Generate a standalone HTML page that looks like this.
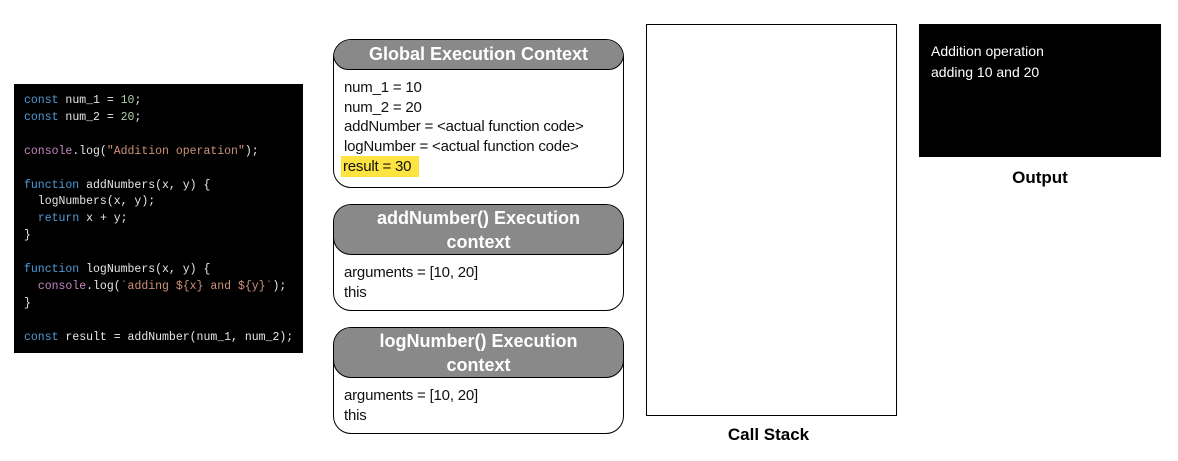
<!DOCTYPE html>
<html><head><style>
body{margin:0;width:1178px;height:461px;background:#fff;position:relative;overflow:hidden;font-family:"Liberation Sans",sans-serif}
.abs{position:absolute}
.code{left:14px;top:84px;width:289px;height:269px;background:#000;}
.code pre{margin:0;position:absolute;left:10px;top:9px;font-family:"Liberation Mono",monospace;font-size:11.5px;line-height:16.9px;color:#e6e6e6}
.k{color:#4f9ad6}.n{color:#b5cea8}.s{color:#ce9178}.p{color:#c586c0}
.box{border:1.5px solid #000;border-radius:18px;background:#fff;box-sizing:border-box;overflow:hidden}
.hd{position:absolute;left:-1px;right:-1px;top:-1px;background:#898989;border:1.5px solid #000;border-radius:18px;color:#fff;font-weight:bold;font-size:18px;text-align:center;box-sizing:border-box}
.bd{position:absolute;left:10px;font-size:15px;line-height:19.7px;color:#111;letter-spacing:-0.2px}
</style></head><body>
<div class="abs code"><pre><span class="k">const</span> num_1 = <span class="n">10</span>;
<span class="k">const</span> num_2 = <span class="n">20</span>;

<span class="p">console</span>.log(<span class="s">"Addition operation"</span>);

<span class="k">function</span> addNumbers(x, y) {
  logNumbers(x, y);
  <span class="k">return</span> x + y;
}

<span class="k">function</span> logNumbers(x, y) {
  <span class="p">console</span>.log(<span class="s">`adding ${x} and ${y}`</span>);
}

<span class="k">const</span> result = addNumber(num_1, num_2);</pre></div>

<div class="abs box" style="left:333px;top:39px;width:291px;height:149px">
 <div class="hd" style="height:31px;line-height:28px">Global Execution Context</div>
 <div class="bd" style="top:38px">num_1 = 10<br>num_2 = 20<br>addNumber = &lt;actual function code&gt;<br>logNumber = &lt;actual function code&gt;<br><span style="background:#fde440;padding:2px 8px 2px 2px;margin-left:-3px">result = 30</span></div>
</div>
<div class="abs box" style="left:333px;top:204px;width:291px;height:107px">
 <div class="hd" style="height:51px;line-height:24px;padding-top:1px">addNumber() Execution<br>context</div>
 <div class="bd" style="top:58px">arguments = [10, 20]<br>this</div>
</div>
<div class="abs box" style="left:333px;top:327px;width:291px;height:107px">
 <div class="hd" style="height:51px;line-height:24px;padding-top:1px">logNumber() Execution<br>context</div>
 <div class="bd" style="top:58px">arguments = [10, 20]<br>this</div>
</div>

<div class="abs" style="left:646px;top:24px;width:249px;height:390px;border:1px solid #000"></div>
<div class="abs" style="left:643px;top:425px;width:251px;text-align:center;font-weight:bold;font-size:17px">Call Stack</div>

<div class="abs" style="left:919px;top:24px;width:242px;height:133px;background:#000"></div>
<div class="abs" style="left:931px;top:41px;color:#fff;font-size:14px;line-height:21px">Addition operation<br>adding 10 and 20</div>
<div class="abs" style="left:919px;top:168px;width:242px;text-align:center;font-weight:bold;font-size:17px">Output</div>
</body></html>
